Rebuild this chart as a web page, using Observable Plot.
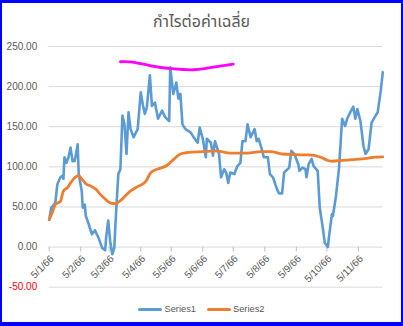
<!DOCTYPE html>
<html><head><meta charset="utf-8">
<script src="https://cdn.jsdelivr.net/npm/d3@7"></script>
<script src="https://cdn.jsdelivr.net/npm/@observablehq/plot@0.6"></script>
<style>
body{margin:0;width:403px;height:326px;overflow:hidden;background:#fff;font-family:"Liberation Sans",Arial,sans-serif;}
#wrap{position:relative;width:403px;height:326px;}
#chart{position:absolute;left:0;top:0;}
#title{position:absolute;left:0;width:403px;top:11px;text-align:center;font-size:16px;line-height:22px;color:#595959;font-family:"Noto Sans Thai","Leelawadee UI",Tahoma,"Noto Sans",sans-serif;}
#legend{position:absolute;top:303px;left:0;width:403px;display:flex;justify-content:center;gap:11px;font-size:9.3px;line-height:12px;color:#595959;}
.item{display:flex;align-items:center;gap:2px}
.sw{width:24px;height:3px;border-radius:2px}
#frame{position:absolute;left:0;top:0;width:403px;height:326px;box-sizing:border-box;border-style:solid;border-color:#0000ff;border-width:3px 2px 4px 2px;pointer-events:none}
</style></head>
<body><div id="wrap">
<div id="chart"></div>
<div id="title">กำไรต่อค่าเฉลี่ย</div>
<div id="legend"></div>
<div id="frame"></div>
</div>
<script>
const titleText = "กำไรต่อค่าเฉลี่ย";
const seriesNames = ["Series1", "Series2"];
const seriesColors = ["#5B9BD5", "#ED7D31", "#FF00FF"];

const xTickDates = ["2023-01-05","2023-02-05","2023-03-05","2023-04-05","2023-05-05","2023-06-05","2023-07-05","2023-08-05","2023-09-05","2023-10-05","2023-11-05"];
const xTickLabels = ["5/1/66","5/2/66","5/3/66","5/4/66","5/5/66","5/6/66","5/7/66","5/8/66","5/9/66","5/10/66","5/11/66"];
const yTicks = [-50, 0, 50, 100, 150, 200, 250];
const xDomain = ["2023-01-05", "2023-11-29"];

const s1Dates = ["01-05","01-07","01-11","01-13","01-16","01-18","01-19","01-20","01-22","01-24","01-26","01-28","01-30",
"02-02","02-03","02-06","02-07","02-09","02-10","02-13","02-16","02-19","02-23","02-26",
"03-01","03-02","03-04","03-06","03-08","03-10","03-12","03-14","03-16","03-18","03-20","03-22","03-24","03-26","03-29",
"04-02","04-05","04-07","04-09","04-11","04-14","04-16","04-19","04-22","04-26","04-29",
"05-03","05-04","05-07","05-10","05-12","05-14","05-16","05-19","05-24","05-27","05-31",
"06-02","06-05","06-08","06-09","06-13","06-15","06-17","06-21","06-23","06-26","06-28","06-30",
"07-02","07-06","07-09","07-12","07-14","07-17","07-19","07-22","07-26","07-28","07-30",
"08-02","08-04","08-08","08-10","08-13","08-17","08-19","08-22","08-24","08-29","08-31",
"09-03","09-07","09-08","09-11","09-14","09-15","09-17","09-20","09-22","09-26","09-28",
"10-01","10-03","10-06","10-07","10-10","10-11","10-14","10-17","10-20","10-23","10-25","10-28","10-31",
"11-02","11-04","11-07","11-10","11-12","11-15","11-18","11-21","11-24","11-27","11-29"];
const s1Values = [34,49,55,78,87,89,85,112,105,112,124,107,107,
128,91,70,49,53,39,28,16,21,10,-1,
-4,12,33,7,-9,-1,49,91,97,164,153,116,168,147,137,
147,193,178,166,174,214,176,180,160,170,162,
157,224,191,205,185,191,153,147,143,137,130,
149,135,112,135,130,114,132,116,87,97,93,80,
93,91,101,105,132,132,153,137,147,132,135,
122,112,112,91,87,72,67,67,93,99,120,
116,103,95,99,97,87,103,110,101,95,49,
24,5,0,12,41,39,64,99,160,151,160,168,175,
160,172,157,126,116,122,155,162,168,195,218];

const s2Dates = ["01-05","01-08","01-11","01-16","01-19","01-23","01-26","01-29","02-03","02-06","02-10","02-15","02-20","02-24",
"03-01","03-06","03-11","03-16","03-21","03-26","03-31","04-10","04-15","04-21","05-01","05-08","05-14","05-22",
"06-05","06-18","07-02","07-19","08-01","08-11","08-22","09-09","09-17","09-29","10-06","10-10","10-20","10-30","11-09","11-22","11-29"];
const s2Values = [34,43,53,57,70,74,80,85,89,85,79,76,72,66,
60,55,54,58,64,70,74,82,93,97,102,110,116,118,
119,120,117,117,119,119,116,115,115,112,108,107,108,109,110,112,112.5];

const s3Dates = ["03-16","03-28","04-15","05-08","05-27","06-09","07-05"];
const s3Values = [231,230.5,226,222,221,223,228];

const toDate = s => new Date(s.length === 5 ? "2023-" + s : s);
const mk = (ds, vs) => ds.map((d, i) => ({date: toDate(d), value: vs[i]}));
const s1 = mk(s1Dates, s1Values);
const s2 = mk(s2Dates, s2Values);
const s3 = mk(s3Dates, s3Values);
const xt = xTickDates.map(toDate);
const labelOf = new Map(xt.map((d, i) => [+d, xTickLabels[i]]));

const chart = Plot.plot({
  width: 403,
  height: 300,
  marginTop: 46,
  marginBottom: 13.3,
  marginLeft: 48.7,
  marginRight: 20.7,
  style: {fontFamily: "'Liberation Sans', Arial, sans-serif", fontSize: "10px", background: "transparent"},
  x: {type: "utc", domain: xDomain.map(toDate), axis: null},
  y: {domain: [-50, 250], axis: null},
  marks: [
    Plot.gridY(yTicks, {stroke: "#d9d9d9", strokeOpacity: 1, strokeWidth: 1}),
    Plot.ruleX(xt, {x: d => d, y1: () => 0, y2: () => 0, insetBottom: -5, stroke: "#bfbfbf"}),
    Plot.text(xt, {x: d => d, y: () => 0, text: d => labelOf.get(+d), rotate: -45, textAnchor: "end", dx: 3, dy: 10, fill: "#595959", fontSize: 10}),
    Plot.text(yTicks, {y: d => d, text: d => d.toFixed(2), frameAnchor: "left", textAnchor: "end", dx: -12, fill: d => d < 0 ? "#ff0000" : "#595959", fontSize: 10}),
    Plot.line(s1, {x: "date", y: "value", stroke: seriesColors[0], strokeWidth: 2.6, strokeLinejoin: "round"}),
    Plot.line(s2, {x: "date", y: "value", stroke: seriesColors[1], strokeWidth: 2.8, curve: "monotone-x"}),
    Plot.line(s3, {x: "date", y: "value", stroke: seriesColors[2], strokeWidth: 2.8, curve: "natural"})
  ]
});
document.getElementById("chart").appendChild(chart);
document.getElementById("title").textContent = titleText;
const leg = document.getElementById("legend");
seriesNames.forEach((n, i) => {
  const it = document.createElement("div"); it.className = "item";
  const sw = document.createElement("div"); sw.className = "sw"; sw.style.background = seriesColors[i];
  const t = document.createElement("span"); t.textContent = n;
  it.appendChild(sw); it.appendChild(t); leg.appendChild(it);
});
</script>
</body></html>
